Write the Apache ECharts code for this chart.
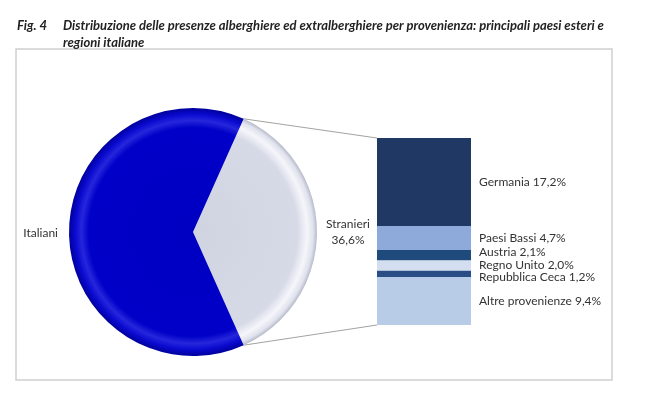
<!DOCTYPE html>
<html>
<head>
<meta charset="utf-8">
<script src="https://cdn.jsdelivr.net/npm/echarts@6/dist/echarts.min.js"></script>
<style>
  html, body { margin: 0; padding: 0; background: #fff; }
  #main { width: 650px; height: 415px; }
</style>
</head>
<body>
<div id="main"></div>
<script>
// dati: presenze per provenienza (%)
var pieNames = ['Stranieri', 'Italiani'];
var pieValues = [36.6, 63.4];

var paesiNames = ['Germania', 'Paesi Bassi', 'Austria', 'Regno Unito', 'Repubblica Ceca', 'Altre provenienze'];
var paesiValues = [17.2, 4.7, 2.1, 2.0, 1.2, 9.4];
var paesiColors = ['#1f3864', '#8eaadb', '#1f4a7c', '#d3def1', '#2a4d86', '#b8cce8'];

var titolo1 = 'Distribuzione delle presenze alberghiere ed extralberghiere per provenienza: principali paesi esteri e';
var titolo2 = 'regioni italiane';

var cx = 193, cy = 232, raggio = 124;
var barTop = 138, barH = 187, barLeft = 377;
var fontTesto = 'Lato, "Liberation Sans", sans-serif';

function fmt(v){
	return v.toFixed(1).replace('.', ',') + '%';
}

var totStranieri = 0;
for(var i=0;i<paesiValues.length;i++){
	totStranieri += paesiValues[i];
}
// la fetta stranieri centrata sull'asse orizzontale
var startAng = 360 * pieValues[0] / (pieValues[0] + pieValues[1]) / 2;

// posizione verticale delle etichette della barra, distanziate se troppo vicine
function labelPos(){
	var minGap = 12.5;
	var c = [], cum = 0;
	for(var i=0;i<paesiValues.length;i++){
		c.push(barTop + (cum + paesiValues[i] / 2) / totStranieri * barH);
		cum += paesiValues[i];
	}
	var groups = [];
	for(var i=0;i<c.length;i++){
		groups.push({ items: [i], mean: c[i] });
	}
	var changed = true;
	while(changed){
		changed = false;
		for(var g=0; g<groups.length-1; g++){
			var A = groups[g], B = groups[g+1];
			var aEnd = A.mean + (A.items.length - 1) * minGap / 2;
			var bStart = B.mean - (B.items.length - 1) * minGap / 2;
			if(bStart - aEnd < minGap){
				var items = A.items.concat(B.items);
				var s = 0;
				for(var k=0;k<items.length;k++){ s += c[items[k]]; }
				groups.splice(g, 2, { items: items, mean: s / items.length });
				changed = true;
				break;
			}
		}
	}
	var y = [];
	for(var g=0; g<groups.length; g++){
		var n = groups[g].items.length;
		for(var k=0;k<n;k++){
			y[groups[g].items[k]] = groups[g].mean + (k - (n - 1) / 2) * minGap;
		}
	}
	return y;
}
var labelY = labelPos();

function radial(stops){
	return new echarts.graphic.RadialGradient(cx, cy, raggio, stops, true);
}

var pieData = [
	{
		name: pieNames[0], value: pieValues[0],
		itemStyle: {
			color: radial([
				{offset: 0, color: '#d0d4e1'},
				{offset: 0.84, color: '#d6d9e6'},
				{offset: 0.92, color: '#f5f6fb'},
				{offset: 0.97, color: '#dfe2ec'},
				{offset: 1, color: '#b5b9c9'}
			])
		}
	},
	{
		name: pieNames[1], value: pieValues[1],
		itemStyle: {
			color: radial([
				{offset: 0, color: '#0000c2'},
				{offset: 0.84, color: '#0000c8'},
				{offset: 0.9, color: '#2626dc'},
				{offset: 0.95, color: '#0a0ad0'},
				{offset: 1, color: '#00009c'}
			])
		}
	}
];

var barSeries = [];
for(var i=0;i<paesiNames.length;i++){
	barSeries.push({
		name: paesiNames[i],
		type: 'bar',
		stack: 'stranieri',
		barWidth: '100%',
		itemStyle: { color: paesiColors[i] },
		label: {
			show: true,
			position: 'right',
			distance: 8,
			color: '#333',
			fontFamily: fontTesto,
			fontSize: 12,
			formatter: function(p){ return p.seriesName + ' ' + fmt(p.value); }
		},
		labelLayout: function(p){
			return { y: labelY[p.seriesIndex - 1], verticalAlign: 'middle' };
		},
		data: [paesiValues[i]]
	});
}

var myChart = echarts.init(document.getElementById('main'));
var titleStyle = { fontFamily: fontTesto, fontSize: 13, fontWeight: 'bold', fontStyle: 'italic', color: '#222', lineHeight: 17 };
var option = {
	animation: false,
	title: [
		{ text: 'Fig. 4', left: 17, top: 17, padding: 0, textStyle: titleStyle },
		{ text: titolo1 + '\n' + titolo2, left: 63, top: 17, padding: 0, textStyle: titleStyle }
	],
	grid: { left: barLeft, top: barTop, width: 94, height: barH },
	xAxis: { type: 'category', data: ['Stranieri'], show: false },
	yAxis: { type: 'value', min: 0, max: totStranieri, inverse: true, show: false },
	series: [
		{
			type: 'pie',
			center: [cx, cy],
			radius: raggio,
			startAngle: startAng,
			clockwise: true,
			label: {
				show: true,
				color: '#333',
				fontFamily: fontTesto,
				fontSize: 12,
				lineHeight: 16,
				overflow: 'none',
				formatter: function(p){
					return p.dataIndex === 0 ? p.name + '\n' + fmt(p.value) : p.name;
				}
			},
			labelLine: { show: false },
			labelLayout: function(p){
				if(p.dataIndex === 0){
					return { x: cx + raggio + 31, y: cy, align: 'center', verticalAlign: 'middle' };
				}
				return { x: cx - raggio - 11, y: cy + 1, align: 'right', verticalAlign: 'middle' };
			},
			emphasis: { disabled: true },
			data: pieData
		}
	].concat(barSeries)
};
myChart.setOption(option);

// linee di collegamento torta -> barra
var a = startAng * Math.PI / 180;
var pTop = [cx + raggio * Math.cos(a), cy - raggio * Math.sin(a)];
var pBot = [cx + raggio * Math.cos(a), cy + raggio * Math.sin(a)];
var bTop = myChart.convertToPixel({gridIndex: 0}, [0, 0]);
var bBot = myChart.convertToPixel({gridIndex: 0}, [0, totStranieri]);

myChart.setOption({
	graphic: [
		{
			type: 'rect',
			shape: { x: 16, y: 49, width: 596, height: 331 },
			style: { fill: 'none', stroke: '#cfcfcf', lineWidth: 1.5 },
			z: -1
		},
		{
			type: 'line',
			shape: { x1: pTop[0], y1: pTop[1], x2: barLeft, y2: bTop[1] },
			style: { stroke: '#8a8a8a', lineWidth: 0.8 }
		},
		{
			type: 'line',
			shape: { x1: pBot[0], y1: pBot[1], x2: barLeft, y2: bBot[1] },
			style: { stroke: '#8a8a8a', lineWidth: 0.8 }
		}
	]
});
</script>
</body>
</html>
